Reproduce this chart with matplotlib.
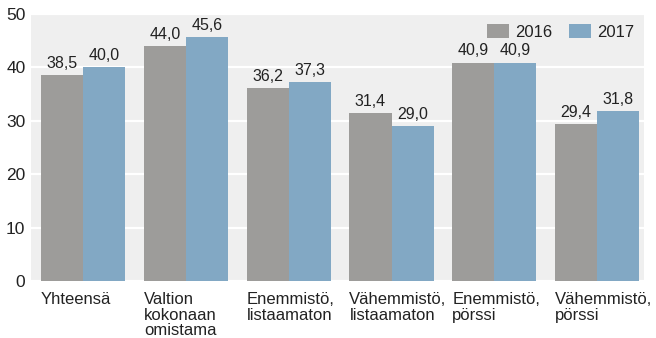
import matplotlib.pyplot as plt
import numpy as np

categories = ["Yhteensä", "Valtion\nkokonaan\nomistama", "Enemmistö,\nlistaamaton",
              "Vähemmistö,\nlistaamaton", "Enemmistö,\npörssi", "Vähemmistö,\npörssi"]
values_2016 = [38.5, 44.0, 36.2, 31.4, 40.9, 29.4]
values_2017 = [40.0, 45.6, 37.3, 29.0, 40.9, 31.8]
series_names = ["2016", "2017"]

gray = "#9d9c9a"
blue = "#82a8c4"

plt.rcParams['font.family'] = ['Liberation Sans', 'DejaVu Sans']

fig = plt.figure(figsize=(6.56, 3.38), dpi=100)
ax = fig.add_axes([0.0473, 0.1686, 0.935, 0.79])
ax.set_facecolor("#efefef")

x = np.arange(len(categories))
w = 0.41
b1 = ax.bar(x - w / 2, values_2016, w, color=gray, label=series_names[0], zorder=3)
b2 = ax.bar(x + w / 2, values_2017, w, color=blue, label=series_names[1], zorder=3)

def fmt(v):
    return f"{v:.1f}".replace(".", ",")

for bars, vals in ((b1, values_2016), (b2, values_2017)):
    for rect, v in zip(bars, vals):
        ax.annotate(fmt(v), (rect.get_x() + rect.get_width() / 2, v),
                    xytext=(0, 3), textcoords="offset points",
                    ha="center", va="bottom", fontsize=11.5, color="#222222")

ax.set_ylim(0, 50)
ax.set_yticks([0, 10, 20, 30, 40, 50])
ax.set_xlim(-0.507, 5.46)
ax.grid(axis="y", color="white", linewidth=1.6, zorder=1)
ax.set_axisbelow(True)
for s in ax.spines.values():
    s.set_visible(False)
ax.tick_params(axis="y", length=0, pad=4, labelsize=12.5, labelcolor="#222222")

ax.set_xticks(x - w)
ax.set_xticklabels(categories, ha="left", va="top", fontsize=12, color="#222222",
                   linespacing=1.05)
ax.tick_params(axis="x", length=0, pad=8)

leg = ax.legend(loc="upper right", ncol=2, frameon=False, fontsize=12,
                handlelength=1.35, handleheight=0.9, handletextpad=0.35,
                columnspacing=1.0, borderaxespad=0.2, bbox_to_anchor=(1.0, 1.0))
for t in leg.get_texts():
    t.set_color("#222222")

fig.savefig("out.png", dpi=100)
